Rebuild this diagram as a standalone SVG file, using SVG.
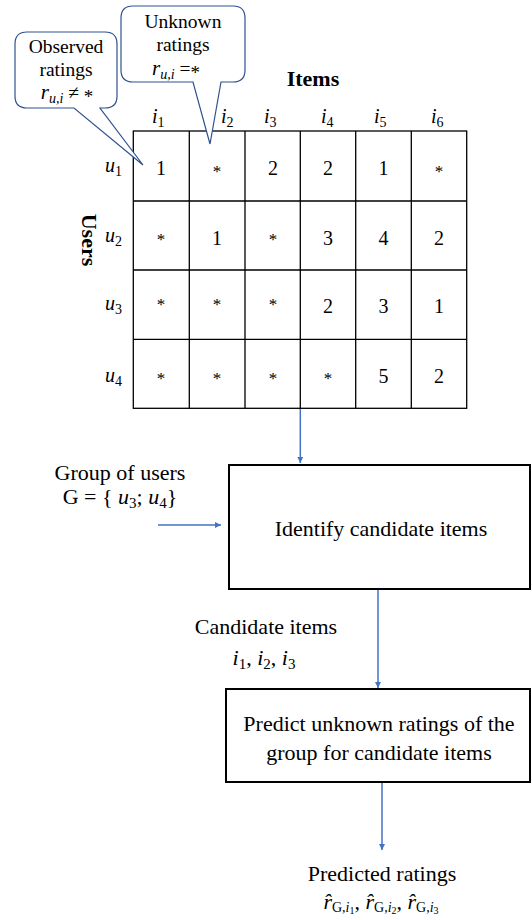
<svg xmlns="http://www.w3.org/2000/svg" width="532" height="920" viewBox="0 0 532 920">
<defs>
<marker id="ah" viewBox="0 0 10 10" refX="10" refY="5" markerWidth="6" markerHeight="6" orient="auto" markerUnits="userSpaceOnUse">
<path d="M0,0 L10,5 L0,10 z" fill="#4472C4"/>
</marker>
<style>
.t,.c,.b,.d,.s,.m{font-family:"Liberation Serif","Times New Roman",serif;fill:#000}
.t{font-size:22px}
.c{font-size:19.5px}
.b{font-size:22px;font-weight:bold}
.d{font-size:20px;text-anchor:middle}
.s{font-size:17px;text-anchor:middle}
.m{font-size:20px;font-style:italic}
.mid{text-anchor:middle}
.grid{stroke:#000;stroke-width:1.3;fill:none}
.box{stroke:#000;stroke-width:2;fill:#fff}
.call{stroke:#2F528F;stroke-width:1.2;fill:#fff}
.con{stroke:#4472C4;stroke-width:1.5;fill:none;marker-end:url(#ah)}
</style>
</defs>
<rect width="532" height="920" fill="#fff"/>

<g id="matrix">
<rect class="grid" x="133.3" y="131" width="333.4" height="277.3"/>
<path class="grid" d="M189.3,131V408.3M245,131V408.3M300.3,131V408.3M355.7,131V408.3M411.3,131V408.3M133.3,201H466.7M133.3,270H466.7M133.3,339.3H466.7"/>
<text class="b mid" x="313" y="86">Items</text>
<text class="b mid" transform="translate(82,240) rotate(90)">Users</text>
<text class="m" x="152" y="123">i<tspan font-size="14" font-style="normal" dy="4">1</tspan></text>
<text class="m" x="221" y="123">i<tspan font-size="14" font-style="normal" dy="4">2</tspan></text>
<text class="m" x="264" y="123">i<tspan font-size="14" font-style="normal" dy="4">3</tspan></text>
<text class="m" x="321" y="123">i<tspan font-size="14" font-style="normal" dy="4">4</tspan></text>
<text class="m" x="374" y="123">i<tspan font-size="14" font-style="normal" dy="4">5</tspan></text>
<text class="m" x="431" y="123">i<tspan font-size="14" font-style="normal" dy="4">6</tspan></text>
<text class="m" x="105" y="172">u<tspan font-size="14" font-style="normal" dy="4">1</tspan></text>
<text class="m" x="105" y="242">u<tspan font-size="14" font-style="normal" dy="4">2</tspan></text>
<text class="m" x="105" y="310">u<tspan font-size="14" font-style="normal" dy="4">3</tspan></text>
<text class="m" x="105" y="382">u<tspan font-size="14" font-style="normal" dy="4">4</tspan></text>

<text class="d" x="161" y="175">1</text>
<text class="s" x="217" y="177">*</text>
<text class="d" x="273" y="175">2</text>
<text class="d" x="328" y="175">2</text>
<text class="d" x="383.5" y="175">1</text>
<text class="s" x="439" y="177">*</text>

<text class="s" x="161" y="245">*</text>
<text class="d" x="217" y="245">1</text>
<text class="s" x="273" y="245">*</text>
<text class="d" x="328" y="245">3</text>
<text class="d" x="383.5" y="245">4</text>
<text class="d" x="439" y="245">2</text>

<text class="s" x="161" y="310">*</text>
<text class="s" x="217" y="310">*</text>
<text class="s" x="273" y="310">*</text>
<text class="d" x="328" y="313">2</text>
<text class="d" x="383.5" y="313">3</text>
<text class="d" x="439" y="313">1</text>

<text class="s" x="161" y="384">*</text>
<text class="s" x="217" y="384">*</text>
<text class="s" x="273" y="384">*</text>
<text class="s" x="328" y="384">*</text>
<text class="d" x="383.5" y="383">5</text>
<text class="d" x="439" y="383">2</text>
</g>

<g id="observed-callout">
<path class="call" d="M27,32 H105 Q117,32 117,44 V96 Q117,108 105,108 H100 L143,165 L74,108 H27 Q15,108 15,96 V44 Q15,32 27,32 Z"/>
<text class="c mid" x="66" y="53">Observed</text>
<text class="c mid" x="66" y="76">ratings</text>
<text class="c mid" x="67" y="99"><tspan font-style="italic" font-size="21">r</tspan><tspan font-size="14" font-style="italic" dy="4">u,i</tspan><tspan dy="-4"> ≠ </tspan><tspan font-size="19" dy="4">*</tspan></text>
</g>

<g id="unknown-callout">
<path class="call" d="M133,6 H233 Q245,6 245,18 V70 Q245,82 233,82 H221 L210,144 L193,82 H133 Q121,82 121,70 V18 Q121,6 133,6 Z"/>
<text class="c mid" x="183" y="28">Unknown</text>
<text class="c mid" x="183" y="51">ratings</text>
<text class="c mid" x="176" y="75"><tspan font-style="italic" font-size="21">r</tspan><tspan font-size="14" font-style="italic" dy="4">u,i</tspan><tspan dy="-4"> =</tspan><tspan font-size="19" dy="4">*</tspan></text>
</g>

<g id="group-label">
<text class="t mid" x="120" y="480">Group of users</text>
<text class="t mid" x="120" y="504">G = { <tspan font-style="italic">u</tspan><tspan font-size="15" dy="4">3</tspan><tspan dy="-4">; </tspan><tspan font-style="italic">u</tspan><tspan font-size="15" dy="4">4</tspan><tspan dy="-4">}</tspan></text>
</g>

<g id="identify">
<rect class="box" x="229" y="465" width="301" height="124"/>
<text class="t mid" x="381" y="536">Identify candidate items</text>
</g>

<g id="candidate-label">
<text class="t mid" x="266" y="634">Candidate items</text>
<text class="t mid" x="264" y="665"><tspan font-style="italic">i</tspan><tspan font-size="15" dy="4">1</tspan><tspan dy="-4">, </tspan><tspan font-style="italic">i</tspan><tspan font-size="15" dy="4">2</tspan><tspan dy="-4">, </tspan><tspan font-style="italic">i</tspan><tspan font-size="15" dy="4">3</tspan></text>
</g>

<g id="predict">
<rect class="box" x="226" y="689" width="304" height="93"/>
<text class="t mid" x="379" y="731">Predict unknown ratings of the</text>
<text class="t mid" x="379" y="760">group for candidate items</text>
</g>

<g id="predicted-label">
<text class="t mid" x="382" y="881">Predicted ratings</text>
<text class="t mid" x="381" y="909"><tspan font-style="italic">r̂</tspan><tspan font-size="14" dy="3">G,</tspan><tspan font-size="14" font-style="italic">i</tspan><tspan font-size="10" dy="2">1</tspan><tspan dy="-5">, </tspan><tspan font-style="italic">r̂</tspan><tspan font-size="14" dy="3">G,</tspan><tspan font-size="14" font-style="italic">i</tspan><tspan font-size="10" dy="2">2</tspan><tspan dy="-5">, </tspan><tspan font-style="italic">r̂</tspan><tspan font-size="14" dy="3">G,</tspan><tspan font-size="14" font-style="italic">i</tspan><tspan font-size="10" dy="2">3</tspan></text>
</g>

<g id="connectors">
<line class="con" x1="300.3" y1="409" x2="300.3" y2="463"/>
<line class="con" x1="158" y1="525" x2="221" y2="525"/>
<line class="con" x1="378" y1="590" x2="378" y2="688"/>
<line class="con" x1="382" y1="783" x2="382" y2="850"/>
</g>
</svg>
